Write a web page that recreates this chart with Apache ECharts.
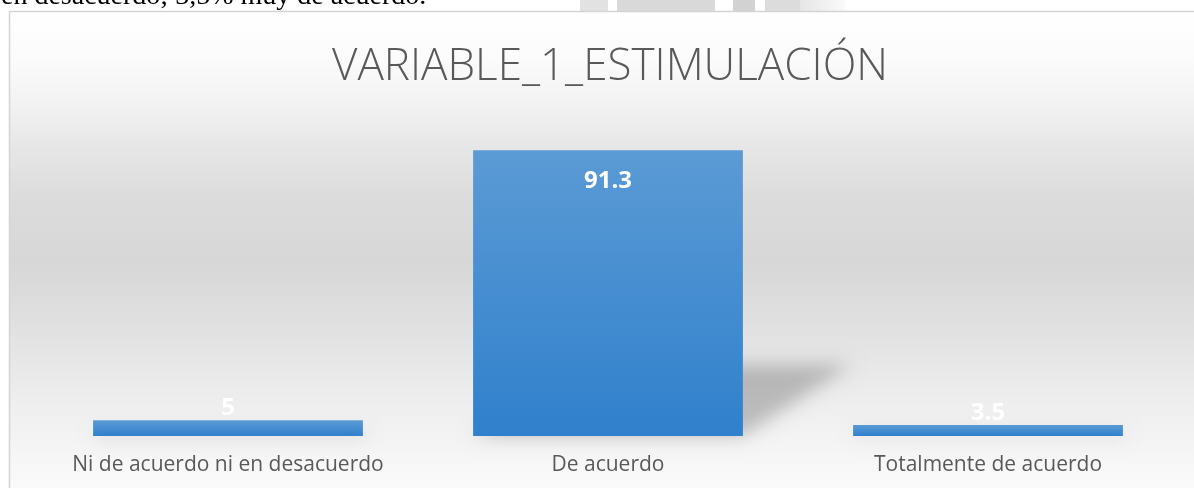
<!DOCTYPE html>
<html>
<head>
<meta charset="utf-8">
<script src="https://cdn.jsdelivr.net/npm/echarts@6/dist/echarts.min.js"></script>
<style>
  html, body { margin: 0; padding: 0; background: #ffffff; }
  #chart { width: 1194px; height: 488px; }
</style>
</head>
<body>
<div id="chart"></div>
<script>
// datos del gráfico
const categories = ['Ni de acuerdo ni en desacuerdo', 'De acuerdo', 'Totalmente de acuerdo'];
const values = [5, 91.3, 3.5];
const chartTitle = 'VARIABLE_1_ESTIMULACIÓN';
const pageText = 'en desacuerdo; 3,5% muy de acuerdo.';

const BAR_RATIO = 0.71;

const chart = echarts.init(document.getElementById('chart'));

const barColor = new echarts.graphic.LinearGradient(0, 0, 0, 1, [
  { offset: 0, color: '#5b9bd5' },
  { offset: 1, color: '#3080cc' }
]);

// etiquetas: dentro arriba para barras altas, encima para las cortas
const barData = values.map(v => ({
  value: v,
  label: v > 20
    ? { position: 'insideTop', distance: 19 }
    : { position: 'top', distance: 0 }
}));

// sombra en perspectiva detrás de cada barra
const renderShadow = (params, api) => {
  const top = api.coord([api.value(0), api.value(1)]);
  const base = api.coord([api.value(0), 0]);
  const bw = api.size([1, 0])[0] * BAR_RATIO;
  const h = base[1] - top[1];
  const sh = h * 0.25;
  const dx = h * 0.38;
  const off = 3000;
  return {
    type: 'polygon',
    shape: {
      points: [
        [base[0] - bw / 2 - off, base[1]],
        [base[0] + bw / 2 - off, base[1]],
        [base[0] + bw / 2 + dx - off, base[1] - sh],
        [base[0] - bw / 2 + dx - off, base[1] - sh]
      ]
    },
    style: {
      fill: '#000',
      shadowColor: 'rgba(0,0,0,0.22)',
      shadowBlur: 18,
      shadowOffsetX: off
    },
    z2: 0
  };
};

const option = {
  animation: false,
  graphic: [
    {
      type: 'rect',
      shape: { x: 580, y: 0, width: 28, height: 11 },
      style: { fill: '#e2e2e2' },
      z: 0
    },
    {
      type: 'rect',
      shape: { x: 617, y: 0, width: 98, height: 11 },
      style: { fill: '#d9d9d9' },
      z: 0
    },
    {
      type: 'rect',
      shape: { x: 733, y: 0, width: 22, height: 11 },
      style: { fill: '#d2d2d2' },
      z: 0
    },
    {
      type: 'rect',
      shape: { x: 765, y: 0, width: 35, height: 11 },
      style: { fill: '#dcdcdc' },
      z: 0
    },
    {
      type: 'rect',
      shape: { x: 800, y: 0, width: 45, height: 11 },
      style: {
        fill: new echarts.graphic.LinearGradient(0, 0, 1, 0, [
          { offset: 0, color: '#e6e6e6' },
          { offset: 1, color: '#fafafa' }
        ])
      },
      z: 0
    },
    {
      type: 'text',
      x: 1,
      y: -3,
      style: {
        text: pageText,
        font: '28px "Liberation Serif", "Times New Roman", serif',
        fill: '#000000',
        verticalAlign: 'middle'
      },
      z: 0
    },
    {
      type: 'rect',
      shape: { x: 9.5, y: 11.5, width: 1300, height: 600 },
      style: {
        fill: new echarts.graphic.LinearGradient(0, 0, 0, 1, [
          { offset: 0, color: '#ffffff' },
          { offset: 0.08, color: '#fbfbfb' },
          { offset: 0.15, color: '#f3f3f3' },
          { offset: 0.23, color: '#e6e6e6' },
          { offset: 0.31, color: '#dcdcdc' },
          { offset: 0.42, color: '#d7d7d7' },
          { offset: 0.54, color: '#e2e2e2' },
          { offset: 0.65, color: '#eeeeee' },
          { offset: 0.72, color: '#f4f4f4' },
          { offset: 0.8, color: '#fbfbfb' },
          { offset: 1, color: '#ffffff' }
        ]),
        stroke: '#d4d4d4',
        lineWidth: 1.5
      },
      z: 0
    }
  ],
  title: {
    text: chartTitle,
    left: 605,
    textAlign: 'center',
    top: 40,
    textStyle: {
      fontFamily: '"Open Sans", sans-serif',
      fontSize: 44,
      fontWeight: 300,
      color: '#595959'
    }
  },
  grid: {
    left: 38,
    right: 16,
    top: 123,
    bottom: 52
  },
  xAxis: {
    type: 'category',
    data: categories,
    axisLine: { show: false },
    axisTick: { show: false },
    axisLabel: {
      interval: 0,
      margin: 19,
      color: '#595959',
      fontFamily: '"Open Sans", sans-serif',
      fontSize: 21
    }
  },
  yAxis: {
    type: 'value',
    min: 0,
    max: 100,
    show: false,
    splitLine: { show: false }
  },
  series: [
    {
      type: 'custom',
      renderItem: renderShadow,
      data: values.map((v, i) => [i, v]),
      z: 1,
      silent: true
    },
    {
      type: 'bar',
      data: barData,
      barWidth: (BAR_RATIO * 100) + '%',
      itemStyle: { color: barColor },
      label: {
        show: true,
        color: '#ffffff',
        fontFamily: '"Open Sans", sans-serif',
        fontWeight: 'bold',
        fontSize: 24
      },
      z: 2
    }
  ]
};

chart.setOption(option);

window.addEventListener('resize', () => chart.resize());
</script>
</body>
</html>
